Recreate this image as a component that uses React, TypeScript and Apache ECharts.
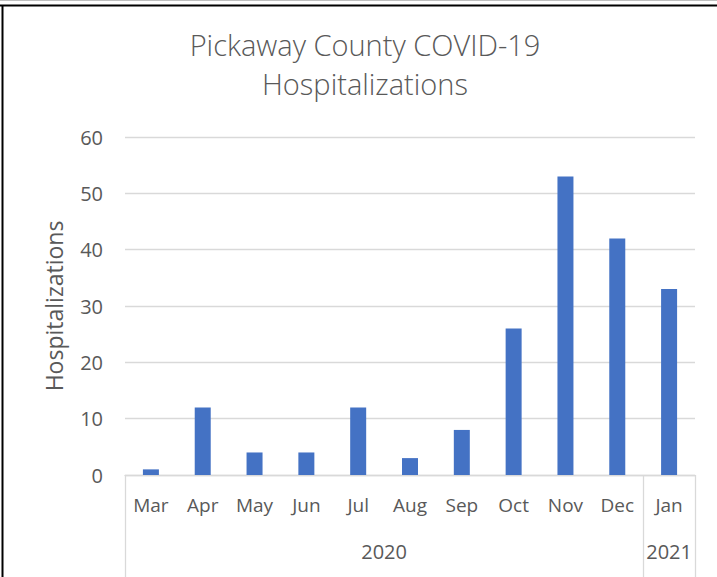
import React, { useEffect, useRef } from "react";
import * as echarts from "echarts";

const months = ["Mar", "Apr", "May", "Jun", "Jul", "Aug", "Sep", "Oct", "Nov", "Dec", "Jan"];
const hospitalizations = [1, 12, 4, 4, 12, 3, 8, 26, 53, 42, 33];
const yearGroups = [
  { label: "2020", start: 0, end: 9 },
  { label: "2021", start: 10, end: 10 },
];
const titleLines = ["Pickaway County COVID-19", "Hospitalizations"];
const yAxisName = "Hospitalizations";

const textColor = "#595959";
const gridColor = "#d9d9d9";
const barColor = "#4472C4";
const font = "'Open Sans', 'Noto Sans', sans-serif";

export default function App() {
  const ref = useRef<HTMLDivElement>(null);
  useEffect(() => {
    if (!ref.current) return;
    const chart = echarts.init(ref.current, null, { renderer: "svg" });
    const W = 717;
    const H = 577;
    chart.setOption({
      animation: false,
      backgroundColor: "#ffffff",
      title: {
        text: titleLines.join("\n"),
        left: 360,
        textAlign: "center",
        top: 20,
        padding: 5,
        textStyle: {
          color: textColor,
          fontFamily: font,
          fontSize: 29,
          fontWeight: 300,
          lineHeight: 39,
        },
      },
      grid: { left: 125, right: 22, top: 137, bottom: 102, containLabel: false },
      xAxis: {
        type: "category",
        data: months,
        axisLine: { lineStyle: { color: gridColor, width: 1.3 } },
        axisTick: { show: false },
        axisLabel: { color: textColor, fontFamily: font, fontSize: 19, margin: 20 },
      },
      yAxis: {
        type: "value",
        min: 0,
        max: 60,
        interval: 10,
        name: yAxisName,
        nameLocation: "middle",
        nameGap: 60,
        nameTextStyle: { color: textColor, fontFamily: font, fontSize: 23 },
        axisLine: { show: false },
        axisTick: { show: false },
        axisLabel: { color: textColor, fontFamily: font, fontSize: 20, margin: 22 },
        splitLine: { lineStyle: { color: gridColor, width: 1.3 } },
      },
      series: [
        {
          type: "bar",
          data: hospitalizations,
          barWidth: 16,
          itemStyle: { color: barColor },
        },
      ],
    });

    const y0 = chart.convertToPixel({ yAxisIndex: 0 }, 0) as number;
    const p0 = chart.convertToPixel({ xAxisIndex: 0 }, months[0]) as number;
    const p1 = chart.convertToPixel({ xAxisIndex: 0 }, months[1]) as number;
    const step = p1 - p0;
    const edge = (i: number) => p0 - step / 2 + i * step;
    const graphics: any[] = [];
    const boundaries = new Set<number>();
    yearGroups.forEach((g) => {
      boundaries.add(g.start);
      boundaries.add(g.end + 1);
    });
    boundaries.forEach((b) => {
      const x = Math.round(edge(b)) + 0.5;
      graphics.push({
        type: "line",
        shape: { x1: x, y1: y0, x2: x, y2: H },
        style: { stroke: gridColor, lineWidth: 1.3 },
      });
    });
    yearGroups.forEach((g) => {
      const cx = (edge(g.start) + edge(g.end + 1)) / 2;
      graphics.push({
        type: "text",
        x: cx,
        y: y0 + 76,
        style: {
          text: g.label,
          fill: textColor,
          font: `20px ${font}`,
          textAlign: "center",
          textVerticalAlign: "middle",
        },
      });
    });
    graphics.push({
      type: "line",
      shape: { x1: 0, y1: 0.5, x2: W, y2: 0.5 },
      style: { stroke: "#bfbfbf", lineWidth: 1 },
    });
    graphics.push({
      type: "line",
      shape: { x1: 0, y1: 5.5, x2: W, y2: 5.5 },
      style: { stroke: "#000000", lineWidth: 2 },
    });
    graphics.push({
      type: "line",
      shape: { x1: 2.5, y1: 5, x2: 2.5, y2: H },
      style: { stroke: "#000000", lineWidth: 2 },
    });
    chart.setOption({ graphic: graphics });

    return () => chart.dispose();
  }, []);
  return (
    <div
      ref={ref}
      style={{ position: "absolute", left: 0, top: 0, width: 717, height: 577 }}
    />
  );
}
